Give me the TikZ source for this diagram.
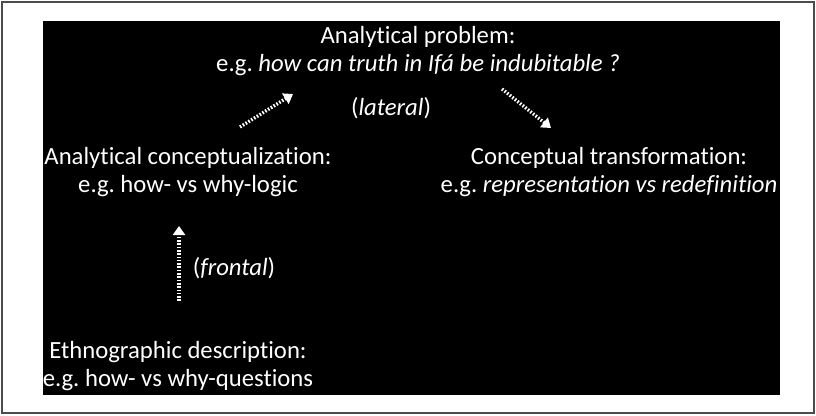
\documentclass[tikz,border=0pt]{standalone}
\usepackage{fontspec}
\setmainfont{Carlito}[Ligatures=NoCommon]
\usetikzlibrary{arrows.meta}
\frenchspacing

\begin{document}
\begin{tikzpicture}[x=1pt, y=-1pt,
  every node/.style={text=white, align=center, inner sep=0pt,
    font=\fontsize{24.7}{28}\selectfont},
  flow/.style={draw=white, line width=3.4pt, dash pattern=on 1.6pt off 1.7pt,
    -{Triangle[length=9pt,width=12pt]}}
]
\useasboundingbox (0,0) rectangle (816,415);
% frame and black panel:
\draw [gray!60!black, line width=1.2pt] (2,2) rectangle (814,413);
\fill [black] (43,21) rectangle (780,395);
% the four stages:
\node (problem) at (418,51) {Analytical problem:\\e.g. \textit{how can truth in Ifá be indubitable ?}};
\node (concept) at (188,172) {Analytical conceptualization:\\e.g. how- vs why-logic};
\node (transform) at (609,172) {Conceptual transformation:\\e.g. \textit{representation vs redefinition}};
\node (ethno) at (178,366) {Ethnographic description:\\e.g. how- vs why-questions};
% arrow ends:
\coordinate (latA) at (240,127);
\coordinate (latB) at (293,94);
\coordinate (latC) at (502,89);
\coordinate (latD) at (551,128);
\coordinate (frontA) at (179,301);
\coordinate (frontB) at (179,226);
\draw [flow] (latA) -- (latB);
\draw [flow] (latC) -- (latD);
\draw [flow] (frontA) -- (frontB);
\node (lateral) at (391,108) {(\textit{lateral})};
\node (frontal) at (234,268) {(\textit{frontal})};
\end{tikzpicture}
\end{document}
